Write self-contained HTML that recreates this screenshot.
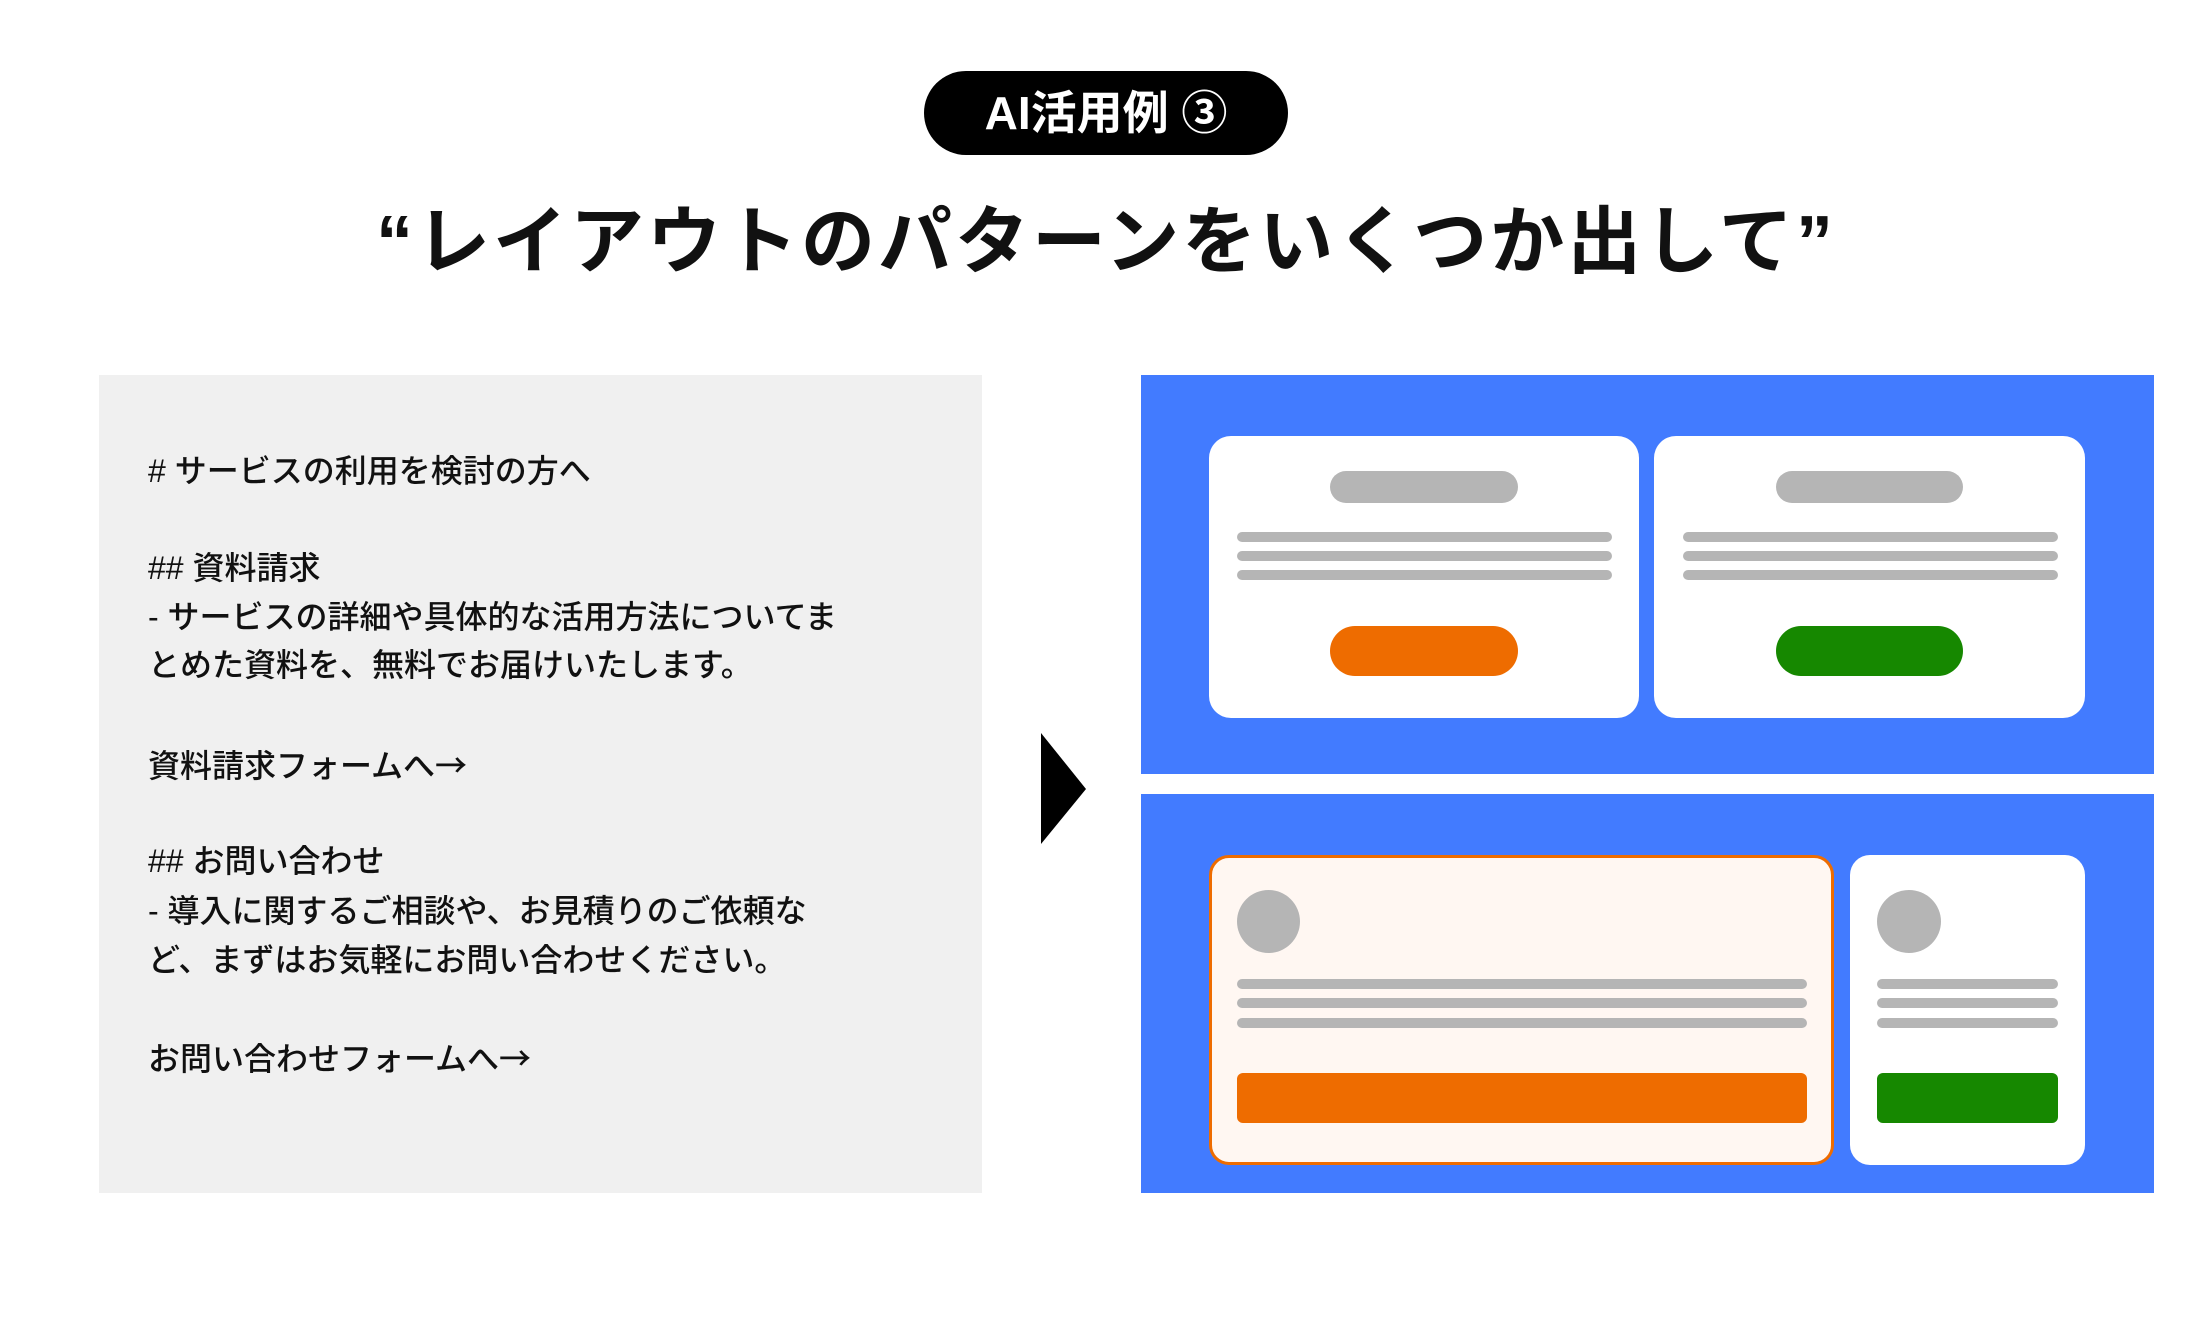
<!DOCTYPE html>
<html><head><meta charset="utf-8"><style>
*{margin:0;padding:0;box-sizing:border-box}
body{width:2212px;height:1318px;background:#fff;position:relative;overflow:hidden;font-family:"Liberation Sans","Noto Sans CJK JP",sans-serif}
.a{position:absolute}
.g{background:#b5b5b5;border-radius:6px}
.card{background:#fff;border-radius:22px}
.t{position:absolute;left:148px;font-size:32px;color:#111;white-space:nowrap;font-weight:500;line-height:1}
.ar{font-family:"Noto Sans CJK JP",sans-serif}
</style></head><body>
<div class="a" style="left:924px;top:71px;width:364px;height:84px;background:#000;border-radius:42px;color:#fff;font-size:46px;font-weight:700;text-align:center;line-height:84px">AI活用例 ③</div>
<div class="a" style="left:0;top:194px;width:2212px;text-align:center;font-size:74px;font-weight:700;color:#111;line-height:96px;letter-spacing:3px">“レイアウトのパターンをいくつか出して”</div>

<div class="a" style="left:99px;top:375px;width:883px;height:818px;background:#f0f0f0"></div>
<div class="t" style="top:455px"># サービスの利用を検討の方へ</div>
<div class="t" style="top:552px">## 資料請求</div>
<div class="t" style="top:601px">- サービスの詳細や具体的な活用方法についてま</div>
<div class="t" style="top:649px">とめた資料を、無料でお届けいたします。</div>
<div class="t" style="top:748px">資料請求フォームへ<span class="ar">→</span></div>
<div class="t" style="top:845px">## お問い合わせ</div>
<div class="t" style="top:895px">- 導入に関するご相談や、お見積りのご依頼な</div>
<div class="t" style="top:944px">ど、まずはお気軽にお問い合わせください。</div>
<div class="t" style="top:1041px">お問い合わせフォームへ<span class="ar">→</span></div>

<svg class="a" style="left:1041px;top:733px" width="46" height="112"><polygon points="0,0 45,56 0,111" fill="#000"/></svg>

<div class="a" style="left:1141px;top:375px;width:1013px;height:399px;background:#427bff"></div>
<div class="a" style="left:1141px;top:794px;width:1013px;height:399px;background:#427bff"></div>

<div class="a card" style="left:1209px;top:436px;width:430px;height:282px"></div>
<div class="a card" style="left:1654px;top:436px;width:431px;height:282px"></div>
<div class="a g" style="left:1330px;top:471px;width:188px;height:32px;border-radius:16px"></div>
<div class="a g" style="left:1776px;top:471px;width:187px;height:32px;border-radius:16px"></div>
<div class="a g" style="left:1237px;top:532px;width:375px;height:10px"></div>
<div class="a g" style="left:1237px;top:551px;width:375px;height:10px"></div>
<div class="a g" style="left:1237px;top:570px;width:375px;height:10px"></div>
<div class="a g" style="left:1683px;top:532px;width:375px;height:10px"></div>
<div class="a g" style="left:1683px;top:551px;width:375px;height:10px"></div>
<div class="a g" style="left:1683px;top:570px;width:375px;height:10px"></div>
<div class="a" style="left:1330px;top:626px;width:188px;height:50px;border-radius:25px;background:#ee6c00"></div>
<div class="a" style="left:1776px;top:626px;width:187px;height:50px;border-radius:25px;background:#168800"></div>

<div class="a" style="left:1209px;top:855px;width:625px;height:310px;background:#fff7f2;border:3px solid #ee6c00;border-radius:20px"></div>
<div class="a card" style="left:1850px;top:855px;width:235px;height:310px;border-radius:20px"></div>
<div class="a" style="left:1237px;top:890px;width:63px;height:63px;border-radius:50%;background:#b5b5b5"></div>
<div class="a" style="left:1877px;top:890px;width:64px;height:63px;border-radius:50%;background:#b5b5b5"></div>
<div class="a g" style="left:1237px;top:979px;width:570px;height:10px"></div>
<div class="a g" style="left:1237px;top:998px;width:570px;height:10px"></div>
<div class="a g" style="left:1237px;top:1018px;width:570px;height:10px"></div>
<div class="a g" style="left:1877px;top:979px;width:181px;height:10px"></div>
<div class="a g" style="left:1877px;top:998px;width:181px;height:10px"></div>
<div class="a g" style="left:1877px;top:1018px;width:181px;height:10px"></div>
<div class="a" style="left:1237px;top:1073px;width:570px;height:50px;border-radius:6px;background:#ee6c00"></div>
<div class="a" style="left:1877px;top:1073px;width:181px;height:50px;border-radius:6px;background:#168800"></div>
</body></html>
